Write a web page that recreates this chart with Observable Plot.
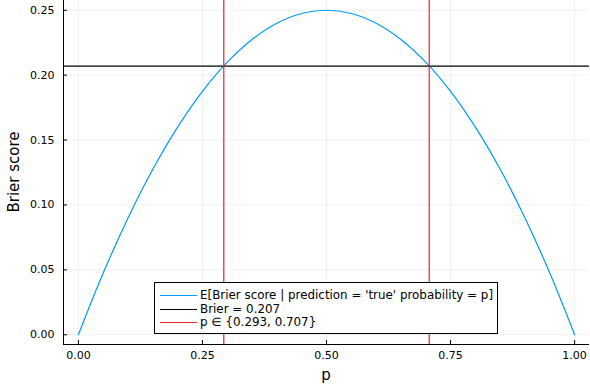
<!DOCTYPE html>
<html>
<head>
<meta charset="utf-8">
<script src="https://cdn.jsdelivr.net/npm/d3@7"></script>
<script src="https://cdn.jsdelivr.net/npm/@observablehq/plot@0.6"></script>
<style>
  body { margin: 0; background: #fff; }
  #wrap { position: relative; width: 590px; height: 389px; font-family: "DejaVu Sans", sans-serif; }
  #legend { position: absolute; left: 154px; top: 282px; width: 342px; height: 50px; border: 1px solid #000; background: #fff; font-size: 11.9px; color: #000; }
  .row { position: absolute; left: 0; height: 13px; line-height: 13px; white-space: nowrap; }
  .sw { position: absolute; left: 5px; top: 6px; width: 37px; height: 0; border-top: 1px solid; }
  .lb { position: absolute; left: 45px; top: 0; }
</style>
</head>
<body>
<div id="wrap"></div>
<script>
// Data
const pValues = [0, 0.05, 0.10, 0.15, 0.20, 0.25, 0.30, 0.35, 0.40, 0.45, 0.50, 0.55, 0.60, 0.65, 0.70, 0.75, 0.80, 0.85, 0.90, 0.95, 1.00];
const brierValues = [0, 0.0475, 0.09, 0.1275, 0.16, 0.1875, 0.21, 0.2275, 0.24, 0.2475, 0.25, 0.2475, 0.24, 0.2275, 0.21, 0.1875, 0.16, 0.1275, 0.09, 0.0475, 0];
const brierLevel = [0.207];
const pCrossings = [0.293, 0.707];
const xTicks = [0, 0.25, 0.5, 0.75, 1.0];
const yTicks = [0, 0.05, 0.10, 0.15, 0.20, 0.25];
const xDomain = [-0.03, 1.03];
const yDomain = [-0.0075, 0.2575];
const legendLabels = ["E[Brier score | prediction = 'true' probability = p]", "Brier = 0.207", "p \u2208 {0.293, 0.707}"];
const colors = ["#009af9", "#000000", "#e8262b"];

const curve = pValues.map((p, i) => ({p, b: brierValues[i]}));
const fmt = d3.format(".2f");

const chart = Plot.plot({
  width: 590,
  height: 389,
  marginLeft: 63,
  marginRight: 1,
  marginTop: 0,
  marginBottom: 45,
  style: {fontFamily: "DejaVu Sans, sans-serif", fontSize: "11px", color: "#000", background: "#fff"},
  x: {domain: xDomain},
  y: {domain: yDomain},
  marks: [
    Plot.gridX(xTicks, {stroke: "#000", strokeOpacity: 0.1, strokeWidth: 0.6}),
    Plot.gridY(yTicks, {stroke: "#000", strokeOpacity: 0.1, strokeWidth: 0.6}),
    Plot.axisX(xTicks, {tickSize: 0, tickPadding: 7, tickFormat: fmt, label: null, fontSize: 11}),
    Plot.axisX(xTicks, {tickSize: 4, dy: -4, tickFormat: () => "", label: null}),
    Plot.axisY(yTicks, {tickSize: 0, tickPadding: 9, tickFormat: fmt, label: null, fontSize: 11}),
    Plot.axisY(yTicks, {tickSize: 4, dx: 4, tickFormat: () => "", label: null}),
    Plot.line(curve, {x: "p", y: "b", stroke: colors[0], strokeWidth: 1.2, curve: "catmull-rom"}),
    Plot.ruleY(brierLevel, {stroke: colors[1], strokeWidth: 1.2}),
    Plot.ruleX(pCrossings, {stroke: colors[2], strokeWidth: 1.2}),
    Plot.ruleX([xDomain[0]], {stroke: "#000", strokeWidth: 1}),
    Plot.ruleY([yDomain[0]], {stroke: "#000", strokeWidth: 1})
  ]
});

const wrap = document.getElementById("wrap");
wrap.appendChild(chart);
chart.style.position = "absolute";
chart.style.left = "0";
chart.style.top = "0";

// axis titles
const xl = document.createElement("div");
xl.textContent = "p";
Object.assign(xl.style, {position: "absolute", left: "0", width: "652px", top: "366px", textAlign: "center", fontSize: "15px"});
wrap.appendChild(xl);
const yl = document.createElement("div");
yl.textContent = "Brier score";
Object.assign(yl.style, {position: "absolute", left: "14px", top: "172px", transform: "translate(-50%,-50%) rotate(-90deg)", fontSize: "15px", whiteSpace: "nowrap"});
wrap.appendChild(yl);

// legend
const lg = document.createElement("div");
lg.id = "legend";
legendLabels.forEach((t, i) => {
  const r = document.createElement("div");
  r.className = "row";
  r.style.top = (6 + i * 13.5) + "px";
  const sw = document.createElement("div");
  sw.className = "sw";
  sw.style.borderTopColor = colors[i];
  const lb = document.createElement("div");
  lb.className = "lb";
  lb.textContent = t;
  r.appendChild(sw); r.appendChild(lb);
  lg.appendChild(r);
});
wrap.appendChild(lg);
</script>
</body>
</html>
